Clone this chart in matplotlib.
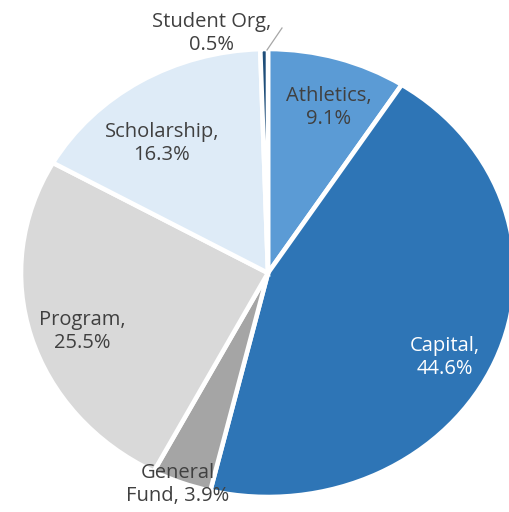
import matplotlib
matplotlib.use("Agg")
import matplotlib.pyplot as plt

categories = ["Athletics", "Capital", "General Fund", "Program", "Scholarship", "Student Org"]
values = [9.1, 44.6, 3.9, 25.5, 16.3, 0.5]
label_texts = ["Athletics,\n9.1%", "Capital,\n44.6%", "General\nFund, 3.9%",
               "Program,\n25.5%", "Scholarship,\n16.3%", "Student Org,\n0.5%"]
colors = ["#5B9BD5", "#2E75B6", "#A5A5A5", "#D9D9D9", "#DEEBF7", "#1F4E79"]
text_colors = ["#404040", "white", "#404040", "#404040", "#404040", "#404040"]
# label centres in pixel coordinates (x, y from top)
label_pos = [(329, 107), (445, 357), (178, 484), (82, 332), (162, 144), (212, 34)]

W, H = 510, 512
fig = plt.figure(figsize=(W / 100, H / 100), dpi=100)
ax = fig.add_axes([0, 0, 1, 1])
ax.pie(values, colors=colors, startangle=90, counterclock=False,
       wedgeprops=dict(edgecolor="white", linewidth=3.3))
ax.set_aspect("auto")
cx, cy, rx, ry = 268, 273, 247, 224
ax.set_xlim(-cx / rx, (W - cx) / rx)
ax.set_ylim(-(H - cy) / ry, cy / ry)

for t, (px, py), tc in zip(label_texts, label_pos, text_colors):
    fig.text(px / W, 1 - py / H, t, ha="center", va="center", color=tc,
             fontsize=14.5, family="Open Sans", linespacing=1.2)

# leader line for Student Org
ax.plot([(282 - cx) / rx, (267 - cx) / rx], [(cy - 28) / ry, (cy - 50) / ry],
        color="#A6A6A6", lw=0.9)

fig.savefig("out.png", dpi=100)
